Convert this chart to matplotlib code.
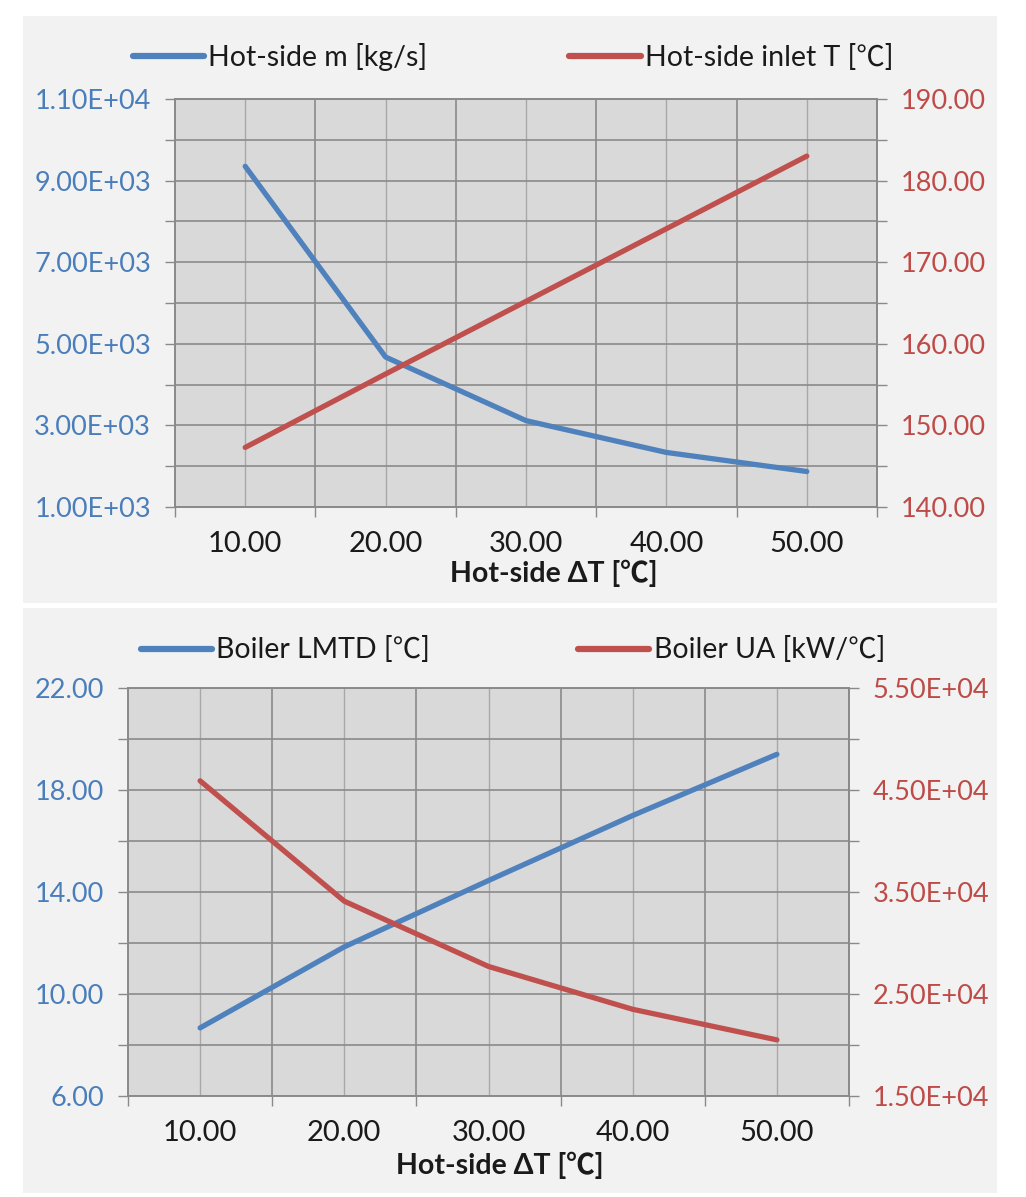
import matplotlib
matplotlib.use("Agg")
import matplotlib.pyplot as plt
import numpy as np
from matplotlib.patches import Rectangle
from matplotlib.ticker import FormatStrFormatter, FuncFormatter
from matplotlib.lines import Line2D

# ---- data ----
delta_t = [10, 20, 30, 40, 50]
hot_mass = [9350, 4675, 3117, 2337, 1870]
hot_inlet_t = [147.3, 156.3, 165.2, 174.1, 183.0]
boiler_lmtd = [8.67, 11.85, 14.45, 17.0, 19.4]
boiler_ua = [45900, 34100, 27700, 23500, 20500]

label_m = "Hot-side m [kg/s]"
label_t = "Hot-side inlet T [\u2103]"
label_lmtd = "Boiler LMTD [\u2103]"
label_ua = "Boiler UA [kW/\u2103]"
xlabel = "Hot-side \u0394T [\u2103]"

FONT = ["Lato", "Noto Sans CJK SC", "DejaVu Sans"]
plt.rcParams["font.family"] = FONT

BLUE = "#4f81bd"
RED = "#c0504d"
BLUE_TXT = "#4a7ebb"
RED_TXT = "#be4b48"
GRID_D = "#8a8a8a"
GRID_L = "#a8a8a8"
PANEL = "#f2f2f2"
PLOT = "#d9d9d9"

W, H = 1026, 1197
fig = plt.figure(figsize=(W / 100, H / 100), dpi=100, facecolor="white")

def fx(px):
    return px / W

def fy(py):
    return 1 - py / H

# panel backgrounds
for (x0, y0, x1, y1) in [(23, 16, 997, 603), (23, 608, 997, 1193)]:
    fig.patches.append(Rectangle((fx(x0), fy(y1)), fx(x1) - fx(x0), fy(y0) - fy(y1),
                                 transform=fig.transFigure, facecolor=PANEL,
                                 edgecolor="none", zorder=-10))

sci = FuncFormatter(lambda v, p: ("%.2E" % v))

def make_panel(box, y1, y2, l1, l2, ylim1, ylim2, nmaj, fmt1, fmt2,
               leg_y, xlab_pos, colsp):
    x0, ytop, x1, ybot = box
    ax = fig.add_axes([fx(x0), fy(ybot), fx(x1) - fx(x0), fy(ytop) - fy(ybot)])
    ax.set_facecolor(PLOT)
    ax2 = ax.twinx()
    ax.plot(delta_t, y1, color=BLUE, lw=3.8, solid_capstyle="round",
            solid_joinstyle="round", zorder=3)
    ax2.plot(delta_t, y2, color=RED, lw=3.8, solid_capstyle="round",
             solid_joinstyle="round", zorder=3)
    ax.set_xlim(5, 55)
    ax.set_ylim(*ylim1)
    ax2.set_ylim(*ylim2)
    # x ticks
    ax.set_xticks(delta_t)
    ax.set_xticks([5, 15, 25, 35, 45, 55], minor=True)
    ax.xaxis.set_major_formatter(FormatStrFormatter("%.2f"))
    ax.tick_params(axis="x", which="major", length=0, pad=17, labelsize=21,
                   labelcolor="#1a1a1a")
    ax.tick_params(axis="x", which="minor", length=7.2, width=1.0, color=GRID_D)
    # y ticks
    for a, lim, fmt in ((ax, ylim1, fmt1), (ax2, ylim2, fmt2)):
        a.set_yticks(np.linspace(lim[0], lim[1], nmaj + 1))
        a.set_yticks(np.linspace(lim[0], lim[1], 2 * nmaj + 1), minor=True)
        a.yaxis.set_major_formatter(fmt)
    for a, c in ((ax, BLUE_TXT), (ax2, RED_TXT)):
        a.tick_params(axis="y", which="both", length=7.2, width=1.0, color=GRID_D,
                      labelsize=19.5, labelcolor=c, pad=10)
    # grid
    ax.grid(True, axis="y", which="both", color=GRID_D, lw=1.2)
    ax.grid(True, axis="x", which="minor", color=GRID_D, lw=1.2)
    ax.grid(True, axis="x", which="major", color=GRID_L, lw=1.0)
    ax.set_axisbelow(True)
    for a in (ax, ax2):
        for s in a.spines.values():
            s.set_color(GRID_D)
            s.set_linewidth(1.2)
    ax2.patch.set_visible(False)
    # legend
    handles = [Line2D([], [], color=BLUE, lw=4.5, solid_capstyle="round"),
               Line2D([], [], color=RED, lw=4.5, solid_capstyle="round")]
    fig.legend(handles, [l1, l2], loc="center", bbox_to_anchor=(0.5, fy(leg_y)),
               ncol=2, frameon=False, fontsize=20.5, handlelength=2.5,
               handletextpad=0.15, columnspacing=colsp, labelcolor="#1a1a1a")
    fig.text(fx(xlab_pos[0]), fy(xlab_pos[1]), xlabel, ha="center", va="center",
             fontsize=20.5, fontweight="bold", color="#1a1a1a")
    return ax, ax2

make_panel((175, 99, 877, 507), hot_mass, hot_inlet_t, label_m, label_t,
           (1000, 11000), (140, 190), 5, sci, FormatStrFormatter("%.2f"),
           57, (554, 573), 5.0)
make_panel((128, 688, 849, 1096), boiler_lmtd, boiler_ua, label_lmtd, label_ua,
           (6, 22), (15000, 55000), 4, FormatStrFormatter("%.2f"), sci,
           650, (500, 1165), 5.2)

fig.savefig("out.png", dpi=100, facecolor="white")
